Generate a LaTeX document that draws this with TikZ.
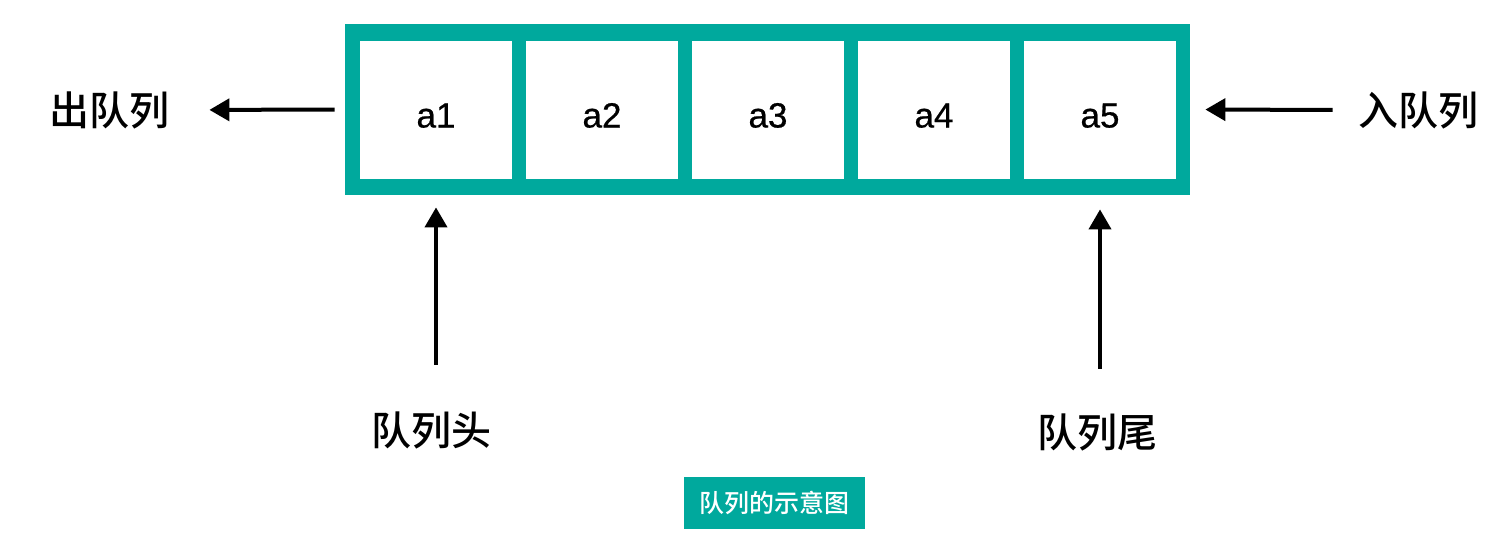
\documentclass[tikz,border=0pt]{standalone}
\usepackage{fontspec}
\setmainfont{Liberation Sans}
\newfontfamily\cellfont{Liberation Sans}[FakeBold=0.6]
\newfontfamily\cjk{Noto Sans CJK SC Medium}
\usepackage{tikz}
\usetikzlibrary{positioning, arrows.meta, calc}
\definecolor{queueteal}{HTML}{00A99D}
\tikzset{
    cell/.style={fill=white, minimum width=76pt, minimum height=69pt, inner sep=0pt, text height=17.5pt, text depth=0pt, font=\cellfont\fontsize{17.5}{17.5}\selectfont},
    cnlabel/.style={inner sep=0pt, font=\cjk\fontsize{20}{20}\selectfont},
    arr/.style={line width=2pt, -{Triangle[length=10pt, width=11pt]}}
}
\begin{document}
\begin{tikzpicture}[x=0.5pt, y=-0.5pt]
    \useasboundingbox (0,0) rectangle (1502,538);

    % queue body
    \node[fill=queueteal, minimum width=422.5pt, minimum height=85.5pt, inner sep=0pt] (queue) at (767.5,109.5) {};

    % draw cells
    \foreach \i in {1,...,5}
    {
        \node[cell] (a\i) at (436+166*\i-166,110) {a\i};
    }

    % labels
    \node[cnlabel] (deq) at (109,110) {出队列};
    \node[cnlabel] (enq) at (1418,110) {入队列};
    \node[cnlabel] (head) at (431,430) {队列头};
    \node[cnlabel] (tail) at (1097,432) {队列尾};

    % arrows
    \draw[arr, shorten <=5pt, shorten >=20pt] (queue.west) -- (deq.east);
    \draw[arr, shorten <=12.5pt, shorten >=7.5pt] (enq.west) -- (queue.east);
    \draw[arr, shorten <=23pt, shorten >=14pt] (a1.south |- head.north) -- (a1.south);
    \draw[arr, shorten <=22pt, shorten >=15pt] (a5.south |- tail.north) -- (a5.south);

    % caption
    \node[fill=queueteal, text=white, minimum width=90.5pt, minimum height=26pt, inner sep=0pt, font=\cjk\fontsize{12.5}{12.5}\selectfont] (caption) at (774.5,503) {队列的示意图};
\end{tikzpicture}
\end{document}
